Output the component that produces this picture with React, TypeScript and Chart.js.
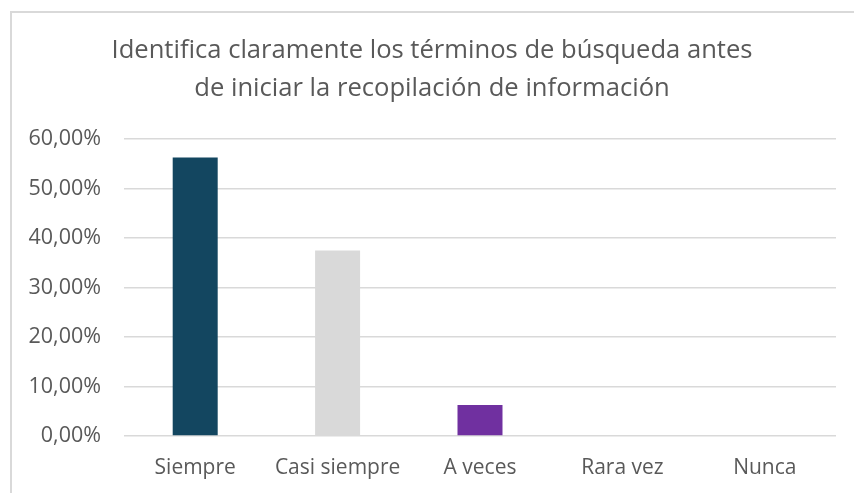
import React, { useEffect, useRef } from "react";
import { Chart, registerables } from "chart.js";

Chart.register(...registerables);

const titleLines = [
  "Identifica claramente los términos de búsqueda antes",
  "de iniciar la recopilación de información",
];
const categories = ["Siempre", "Casi siempre", "A veces", "Rara vez", "Nunca"];
const values = [0.5625, 0.375, 0.0625, 0, 0];
const barColors = ["#134660", "#D9D9D9", "#7030A0", "#A5A5A5", "#FFC000"];
const FONT = "'Open Sans', sans-serif";
const TEXT = "#595959";

const framePlugin = {
  id: "frame",
  beforeDraw(chart: any) {
    const ctx = chart.ctx;
    ctx.save();
    ctx.fillStyle = "#ffffff";
    ctx.fillRect(0, 0, chart.width, chart.height);
    ctx.strokeStyle = "#D9D9D9";
    ctx.lineWidth = 2;
    ctx.beginPath();
    ctx.moveTo(11, chart.height);
    ctx.lineTo(11, 12);
    ctx.lineTo(chart.width, 12);
    ctx.stroke();
    ctx.fillStyle = TEXT;
    ctx.font = `25.6px ${FONT}`;
    ctx.textAlign = "center";
    ctx.textBaseline = "middle";
    ctx.fillText(titleLines[0], 432, 51);
    ctx.fillText(titleLines[1], 432, 89);
    ctx.restore();
  },
};

export default function App() {
  const ref = useRef<HTMLCanvasElement | null>(null);
  useEffect(() => {
    if (!ref.current) return;
    const chart = new Chart(ref.current, {
      type: "bar",
      data: {
        labels: categories,
        datasets: [
          {
            data: values,
            backgroundColor: barColors,
            categoryPercentage: 1,
            barPercentage: 0.316,
          },
        ],
      },
      plugins: [framePlugin],
      options: {
        responsive: false,
        animation: false,
        layout: { padding: { top: 139, right: 18, bottom: 0, left: 0 } },
        plugins: {
          legend: { display: false },
          title: { display: false },
          tooltip: { enabled: false },
        },
        scales: {
          x: {
            grid: { display: false, drawTicks: false },
            border: { display: false },
            ticks: {
              color: TEXT,
              font: { family: FONT, size: 21 },
              padding: 19,
              maxRotation: 0,
            },
            afterFit(scale: any) {
              scale.height = 57;
            },
          },
          y: {
            min: 0,
            max: 0.6,
            grid: { color: "#D9D9D9", lineWidth: 1.5, drawTicks: false },
            border: { display: false },
            ticks: {
              stepSize: 0.1,
              color: TEXT,
              font: { family: FONT, size: 21.5 },
              padding: 23,
              callback: (v: any) =>
                (Number(v) * 100).toFixed(2).replace(".", ",") + "%",
            },
            afterFit(scale: any) {
              scale.width = 124;
            },
          },
        },
      },
    });
    return () => chart.destroy();
  }, []);
  return (
    <div style={{ position: "fixed", left: 0, top: 0, width: 854, height: 493 }}>
      <canvas ref={ref} width={854} height={493} style={{ display: "block" }} />
    </div>
  );
}
